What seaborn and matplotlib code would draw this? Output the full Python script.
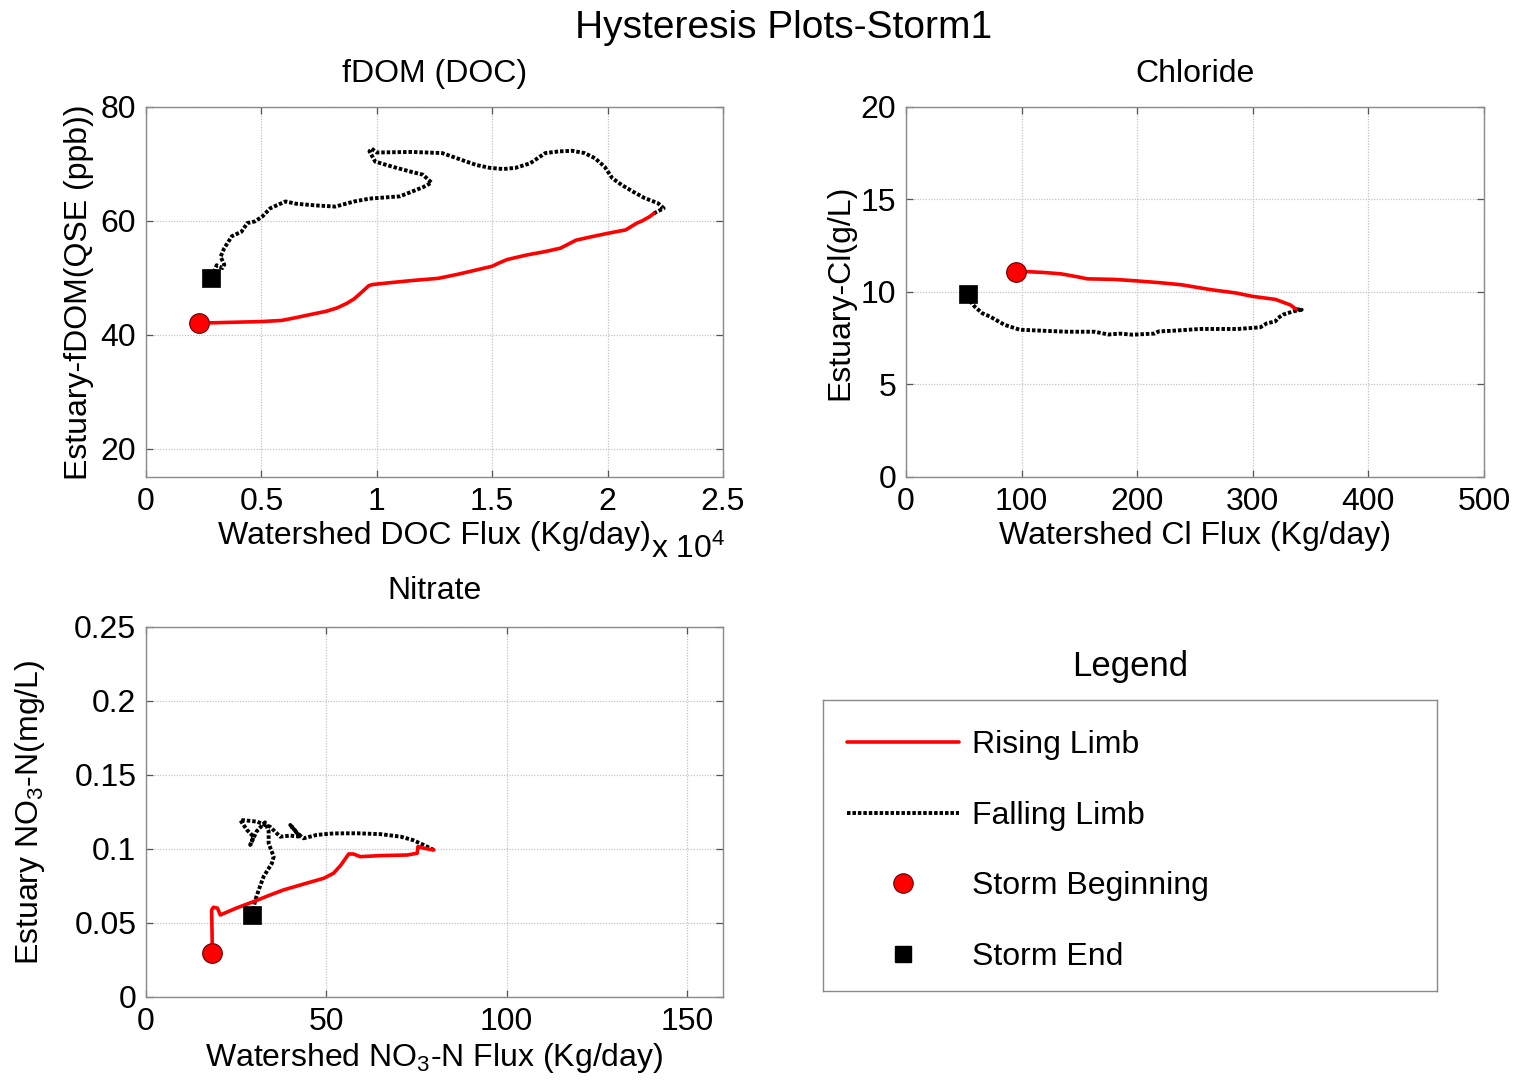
import matplotlib
matplotlib.use("Agg")
import matplotlib.pyplot as plt
from matplotlib.lines import Line2D
from matplotlib.ticker import FuncFormatter, MultipleLocator
import seaborn as sns
import pandas as pd

# ---- fDOM (DOC) ----
doc_rise_x = [2280, 3000, 4000, 5000, 5880, 6500, 7200, 7800, 8280, 8700, 9020, 9300,
              9650, 9800, 10500, 11500, 12670, 13500, 14980, 15300, 15650, 16500, 17300,
              17960, 18630, 19300, 20000, 20780, 21270, 21500, 21850, 22000]
doc_rise_y = [42.05, 42.1, 42.2, 42.3, 42.5, 43.0, 43.6, 44.1, 44.7, 45.5, 46.3, 47.3,
              48.6, 48.8, 49.1, 49.5, 49.9, 50.6, 52.0, 52.6, 53.2, 54.0, 54.6,
              55.2, 56.6, 57.2, 57.8, 58.4, 59.6, 60.0, 60.8, 61.3]
doc_fall_x = [22000, 22430, 22180, 21600, 21110, 20610, 20200, 19870, 19450, 19000,
              18470, 17900, 17300, 16640, 16000, 15480, 14900, 14320, 13600, 12830,
              11500, 10000, 9770, 9680, 9930, 10680, 11500, 12000, 12370, 12000, 11000,
              9680, 9020, 8200, 7370, 6500, 6040, 5380, 5050, 4720, 4390, 4140, 3720,
              3390, 3230, 3390, 3310, 3060, 2980, 2810]
doc_fall_y = [61.3, 62.2, 63.1, 64.0, 65.1, 66.3, 67.5, 69.5, 71.0, 71.9,
              72.3, 72.2, 71.9, 70.1, 69.3, 69.1, 69.3, 69.8, 70.8, 71.9,
              72.1, 72.0, 72.7, 72.2, 70.4, 69.5, 68.6, 68.1, 66.7, 65.9, 64.3,
              63.9, 63.4, 62.5, 62.7, 63.0, 63.4, 62.2, 60.8, 59.9, 59.6, 58.1, 57.3,
              55.2, 53.7, 52.3, 51.7, 52.2, 51.4, 49.9]

# ---- Chloride ----
cl_rise_x = [95.1, 104.9, 120, 134.1, 150, 156.9, 180, 199.2, 220, 238.2, 264.2,
             285, 300, 319.5, 332.5, 337.4]
cl_rise_y = [11.1, 11.1, 11.05, 10.98, 10.8, 10.71, 10.68, 10.6, 10.5, 10.39, 10.12,
             9.95, 9.76, 9.6, 9.3, 9.07]
cl_fall_x = [337.4, 342.3, 335, 326, 322, 319.5, 312, 306.5, 287, 254.5, 230, 218.7,
             215, 205, 196, 185, 175, 163.4, 140, 120, 98.4, 85.4, 72.4, 66, 59.3,
             54.5, 53.5]
cl_fall_y = [9.07, 9.04, 8.95, 8.77, 8.6, 8.41, 8.3, 8.09, 8.0, 8.0, 7.9, 7.87,
             7.75, 7.72, 7.69, 7.75, 7.7, 7.85, 7.85, 7.9, 7.96, 8.22, 8.68, 8.85, 9.22,
             9.58, 9.9]

# ---- Nitrate ----
no3_rise_x = [18.4, 18.2, 18.7, 19.8, 20.6, 25, 29.8, 34, 38.1, 44, 49.3, 52.0, 54,
              56.2, 57.5, 59.4, 65, 72.4, 75.2, 75.4, 77.0, 79.8]
no3_rise_y = [0.0295, 0.0588, 0.0606, 0.0600, 0.0554, 0.060, 0.0644, 0.0685, 0.0723,
              0.0765, 0.0802, 0.0836, 0.089, 0.0966, 0.0966, 0.0948, 0.0955, 0.0959,
              0.0971, 0.1016, 0.1005, 0.0993]
no3_fall_x = [79.8, 77.0, 74, 70.6, 65, 58.5, 52, 47.4, 43.7, 41.9, 40.0, 42.8, 40,
              37.2, 34.4, 30.7, 26.1, 28.0, 29.8, 28.9, 30.7, 33, 34, 34.0, 35.4, 34.9,
              32.6, 31.5, 30.3, 29.4]
no3_fall_y = [0.0993, 0.1027, 0.106, 0.1083, 0.110, 0.1106, 0.1105, 0.1095, 0.1072,
              0.1106, 0.1162, 0.1083, 0.109, 0.1083, 0.115, 0.1185, 0.1196, 0.1128,
              0.1083, 0.1027, 0.112, 0.118, 0.112, 0.1038, 0.0948, 0.0903, 0.0813,
              0.074, 0.0655, 0.0554]

legend_labels = ["Rising Limb", "Falling Limb", "Storm Beginning", "Storm End"]

sns.set_theme(style="white")
plt.rcParams["font.family"] = ["Liberation Sans", "DejaVu Sans"]
plt.rcParams["mathtext.fontset"] = "custom"
plt.rcParams["mathtext.rm"] = "Liberation Sans"
plt.rcParams["mathtext.it"] = "Liberation Sans:italic"
for key in ("text.color", "axes.labelcolor", "xtick.labelcolor", "ytick.labelcolor",
            "axes.titlecolor"):
    plt.rcParams[key] = "black"
FS = 23

RISE_KW = dict(color="#ff0000", lw=2.6, sort=False, estimator=None)
FALL_DASH = (0, (0.9, 0.5))
FALL_KW = dict(color="black", lw=2.8, sort=False, estimator=None)
CIRCLE_KW = dict(marker="o", s=200, color="#ff0000", edgecolor="#600000", linewidth=0.8, zorder=5)
SQUARE_KW = dict(marker="s", s=150, color="black", edgecolor="black", linewidth=0.5, zorder=5)


def draw_panel(ax, rx, ry, fx, fy):
    rise = pd.DataFrame({"x": rx, "y": ry})
    fall = pd.DataFrame({"x": fx, "y": fy})
    sns.lineplot(data=fall, x="x", y="y", ax=ax, **FALL_KW)
    ax.lines[-1].set_linestyle(FALL_DASH)
    sns.lineplot(data=rise, x="x", y="y", ax=ax, **RISE_KW)
    sns.scatterplot(x=[rx[0]], y=[ry[0]], ax=ax, **CIRCLE_KW)
    sns.scatterplot(x=[fx[-1]], y=[fy[-1]], ax=ax, **SQUARE_KW)


def style_axes(ax):
    ax.grid(True, color="#c4c4c4", linestyle=(0, (1, 1.2)), lw=0.9)
    for s in ax.spines.values():
        s.set_color("#8a8a8a")
        s.set_linewidth(1.0)
    ax.tick_params(direction="in", length=5, width=0.9, color="#555555",
                   labelsize=FS, pad=7, top=True, right=True,
                   labeltop=False, labelright=False, bottom=True, left=True,
                   labelcolor="black")
    ax.set_axisbelow(True)


fig = plt.figure(figsize=(15.18, 10.86), dpi=100)

ax1 = fig.add_axes([0.0962, 0.5608, 0.3801, 0.3407])
ax2 = fig.add_axes([0.5968, 0.5608, 0.3808, 0.3407])
ax3 = fig.add_axes([0.0962, 0.0820, 0.3801, 0.3407])
ax4 = fig.add_axes([823 / 1518, 1 - 991 / 1086, 614 / 1518, 291 / 1086])

# fDOM panel
draw_panel(ax1, doc_rise_x, doc_rise_y, doc_fall_x, doc_fall_y)
ax1.set_xlim(0, 25000)
ax1.set_ylim(15, 80)
ax1.xaxis.set_major_locator(MultipleLocator(5000))
ax1.yaxis.set_major_locator(MultipleLocator(20))
ax1.xaxis.set_major_formatter(FuncFormatter(lambda v, p: f"{v / 1e4:g}"))
style_axes(ax1)
ax1.set_title("fDOM (DOC)", fontsize=FS, pad=18)
ax1.set_xlabel("Watershed DOC Flux (Kg/day)", fontsize=FS)
ax1.set_ylabel("Estuary-fDOM(QSE (ppb))", fontsize=FS)
ax1.text(0.875, -0.195, r"x 10$^{4}$", transform=ax1.transAxes, fontsize=FS,
         ha="left", va="center")

# Chloride panel
draw_panel(ax2, cl_rise_x, cl_rise_y, cl_fall_x, cl_fall_y)
ax2.set_xlim(0, 500)
ax2.set_ylim(0, 20)
ax2.xaxis.set_major_locator(MultipleLocator(100))
ax2.yaxis.set_major_locator(MultipleLocator(5))
style_axes(ax2)
ax2.set_title("Chloride", fontsize=FS, pad=18)
ax2.set_xlabel("Watershed Cl Flux (Kg/day)", fontsize=FS)
ax2.set_ylabel("Estuary-Cl(g/L)", fontsize=FS)

# Nitrate panel
draw_panel(ax3, no3_rise_x, no3_rise_y, no3_fall_x, no3_fall_y)
ax3.set_xlim(0, 160)
ax3.set_ylim(0, 0.25)
ax3.xaxis.set_major_locator(MultipleLocator(50))
ax3.yaxis.set_major_locator(MultipleLocator(0.05))
ax3.yaxis.set_major_formatter(FuncFormatter(lambda v, p: f"{v:g}"))
style_axes(ax3)
ax3.set_title("Nitrate", fontsize=FS, pad=20)
ax3.set_xlabel(r"Watershed NO$_3$-N Flux (Kg/day)", fontsize=FS)
ax3.set_ylabel(r"Estuary NO$_3$-N(mg/L)", fontsize=FS)

for ax in (ax1, ax2, ax3):
    ax.xaxis.set_label_coords(0.5, -0.12)
ax1.yaxis.set_label_coords(-0.090, 0.5)
ax2.yaxis.set_label_coords(-0.088, 0.5)
ax3.yaxis.set_label_coords(-0.172, 0.5)

# Legend panel
ax4.set_xticks([])
ax4.set_yticks([])
ax4.set_facecolor("white")
for s in ax4.spines.values():
    s.set_color("#8a8a8a")
    s.set_linewidth(1.0)
ax4.set_title("Legend", fontsize=25, pad=17)
handles = [
    Line2D([], [], color="#ff0000", lw=2.6),
    Line2D([], [], color="black", lw=2.8, linestyle=FALL_DASH),
    Line2D([], [], linestyle="none", marker="o", markersize=14, markerfacecolor="#ff0000",
           markeredgecolor="#600000", markeredgewidth=0.8),
    Line2D([], [], linestyle="none", marker="s", markersize=12, markerfacecolor="black",
           markeredgecolor="black"),
]
ax4.legend(handles, legend_labels, loc="upper left", bbox_to_anchor=(0.008, 0.962),
           frameon=False, fontsize=FS, handlelength=3.5, handletextpad=0.42,
           labelspacing=1.27, borderaxespad=0.2)

fig.text(784 / 1518, 1 - 28 / 1086, "Hysteresis Plots-Storm1", fontsize=28,
         ha="center", va="center")

fig.savefig("out.png", dpi=100, facecolor="white")
